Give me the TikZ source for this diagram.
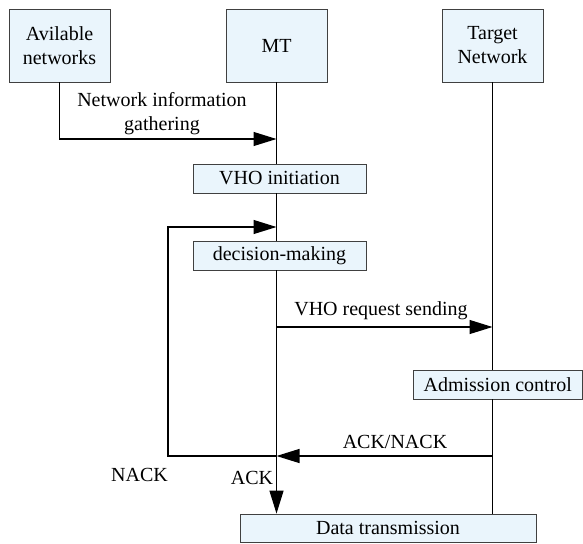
\documentclass[tikz,border=0pt]{standalone}
\usepackage{fontspec}
\setmainfont{Liberation Serif}
\usetikzlibrary{arrows.meta}
\definecolor{boxfill}{RGB}{234,245,252}
\definecolor{boxline}{RGB}{64,64,64}
\begin{document}
\begin{tikzpicture}[x=1pt,y=-1pt,
  every node/.style={font=\fontsize{20}{24}\selectfont},
  box/.style={draw=boxline, line width=0.8pt, fill=boxfill, inner sep=0pt, align=center},
  line/.style={line width=1.2pt, draw=black},
  arr/.style={line width=1.2pt, draw=black, -{Triangle[length=23pt,width=14pt]}},
  lbl/.style={inner sep=0pt, anchor=base}]
\useasboundingbox (0,0) rectangle (583,543);
% participants
\node[box, minimum width=101pt, minimum height=73pt] (av) at (59.5,45.5) {Avilable\\networks};
\node[box, minimum width=101pt, minimum height=73pt] (mt) at (276.5,45.5) {MT};
\node[box, minimum width=101pt, minimum height=73pt] (tn) at (492.5,45.5) {Target\\Network};
% activity boxes
\node[box, minimum width=173pt, minimum height=29pt] (vho) at (279.5,178.5) {VHO initiation};
\node[box, minimum width=173pt, minimum height=29pt] (dec) at (279.5,255.5) {decision-making};
\node[box, minimum width=169pt, minimum height=29pt] (adm) at (497.75,384.5) {Admission control};
\node[box, minimum width=296pt, minimum height=28.5pt] (data) at (388,528.25) {Data transmission};
% coordinates
\coordinate (ga) at (59.5,139);
\coordinate (gm) at (276.5,139);
\coordinate (lp) at (276.5,227);
\coordinate (nt) at (168,227);
\coordinate (nb) at (168,456);
\coordinate (j) at (276.5,456);
\coordinate (rq) at (276.5,327);
\coordinate (ta) at (492.5,456);
% MT lifeline
\draw[line] (mt.south) -- (mt.south |- vho.north);
\draw[line] (mt.south |- vho.south) -- (mt.south |- dec.north);
\draw[line] (mt.south |- dec.south) -- (j);
% target lifeline
\draw[line] (tn.south) -- (tn.south |- adm.north);
\draw[line] (tn.south |- adm.south) -- (tn.south |- data.north);
% messages
\draw[arr] (av.south) -- (ga) -- (gm);
\draw[arr] (rq) -- (rq -| tn.south);
\draw[arr] (ta) -- (j);
\draw[arr] (j) -- (nb) -- (nt) -- (lp);
\draw[arr] (j) -- (j |- data.north);
% labels
\node[inner sep=0pt, align=center] (nig) at (162,114) {Network information\\gathering};
\node[lbl] (vrs) at (381,315) {VHO request sending};
\node[lbl] (an) at (395,448) {ACK/NACK};
\node[lbl] (nk) at (139.5,481) {NACK};
\node[lbl] (ak) at (252,484) {ACK};
\end{tikzpicture}
\end{document}
